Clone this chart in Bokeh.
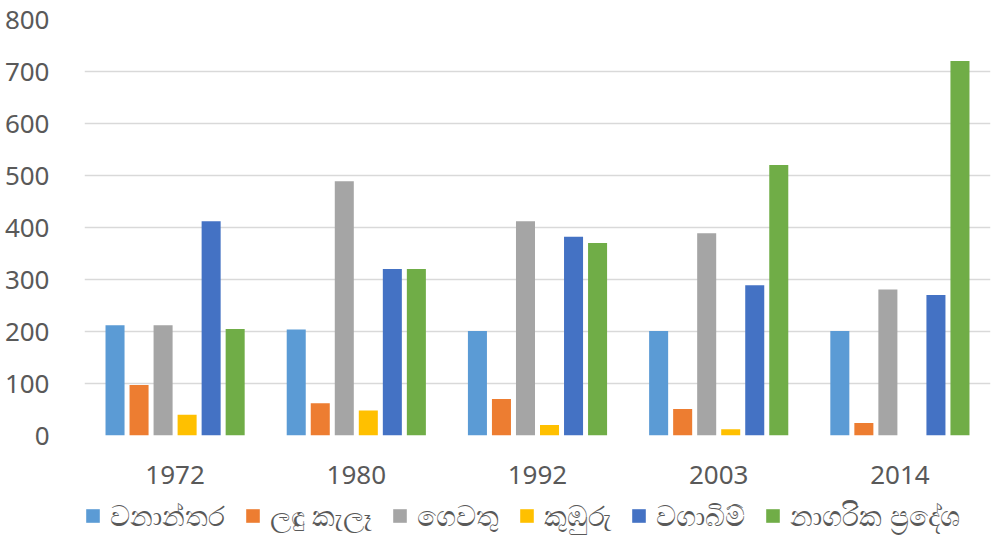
from bokeh.plotting import figure
from bokeh.layouts import column
from bokeh.models import ColumnDataSource, FactorRange, Legend, LegendItem, FixedTicker
from bokeh.transform import dodge
from bokeh.embed import file_html
from bokeh.resources import INLINE

years = ["1972", "1980", "1992", "2003", "2014"]
series_names = ["වනාන්තර", "ලඳු කැලෑ", "ගෙවතු", "කුඹුරු", "වගාබිම්", "නාගරික ප්‍රදේශ"]
forest = [212, 204, 201, 201, 201]
scrub = [97, 62, 70, 51, 24]
homegardens = [212, 489, 412, 389, 281]
paddy = [40, 48, 20, 12, 0]
cultivation = [412, 320, 382, 289, 270]
urban = [205, 320, 370, 520, 720]
colors = ["#5B9BD5", "#ED7D31", "#A5A5A5", "#FFC000", "#4472C4", "#70AD47"]
y_ticks = [0, 100, 200, 300, 400, 500, 600, 700, 800]

values = [forest, scrub, homegardens, paddy, cultivation, urban]
data = {"year": years}
keys = ["s%d" % i for i in range(6)]
for k, v in zip(keys, values):
    data[k] = v
src = ColumnDataSource(data)

font = "Noto Sans"
grey = "#595959"

p = figure(x_range=FactorRange(*years), y_range=(0, 800), width=992, height=495,
           output_backend="svg", toolbar_location=None,
           min_border_left=84, min_border_right=2, min_border_top=19, min_border_bottom=60)

step = 0.1326
bw = 0.105
for i, (k, c) in enumerate(zip(keys, colors)):
    off = (i - 2.5) * step
    p.vbar(x=dodge("year", off, range=p.x_range), top=k, width=bw, source=src,
           fill_color=c, line_color=None)

p.yaxis.ticker = FixedTicker(ticks=y_ticks)
p.yaxis.axis_line_color = None
p.yaxis.major_tick_line_color = None
p.yaxis.minor_tick_line_color = None
p.yaxis.major_label_standoff = 29
p.yaxis.major_label_text_font = font
p.yaxis.major_label_text_font_size = "26px"
p.yaxis.major_label_text_color = grey

p.xaxis.axis_line_color = None
p.xaxis.major_tick_line_color = None
p.xaxis.major_label_standoff = 24
p.xaxis.major_label_text_font = font
p.xaxis.major_label_text_font_size = "26px"
p.xaxis.major_label_text_color = grey

p.xgrid.grid_line_color = None
p.ygrid.grid_line_color = "#D9D9D9"
p.ygrid.grid_line_width = 1.5
p.outline_line_color = None

# legend strip (proxy glyphs of zero height, only used for legend swatches)
p2 = figure(width=992, height=49, x_range=(0, 1), y_range=(0, 1),
            output_backend="svg", toolbar_location=None,
            min_border_left=0, min_border_right=0, min_border_top=0, min_border_bottom=0)
p2.axis.visible = False
p2.grid.visible = False
p2.outline_line_color = None
proxy = ColumnDataSource(dict(x=[0.5], top=[0.0]))
items = []
for c, name in zip(colors, series_names):
    r = p2.vbar(x="x", top="top", width=0.0, source=proxy, fill_color=c, line_color=None)
    items.append(LegendItem(label=name, renderers=[r]))
legend = Legend(items=items, orientation="horizontal", location=(0, 10),
                glyph_width=17, glyph_height=17, label_standoff=9, spacing=19,
                label_text_font=font, label_text_font_size="28px",
                label_text_color=grey, border_line_color=None,
                background_fill_alpha=0, padding=0, margin=0)
p2.add_layout(legend, "center")

layout = column(p, p2, spacing=0)
open("out.html", "w").write(file_html(layout, INLINE))
